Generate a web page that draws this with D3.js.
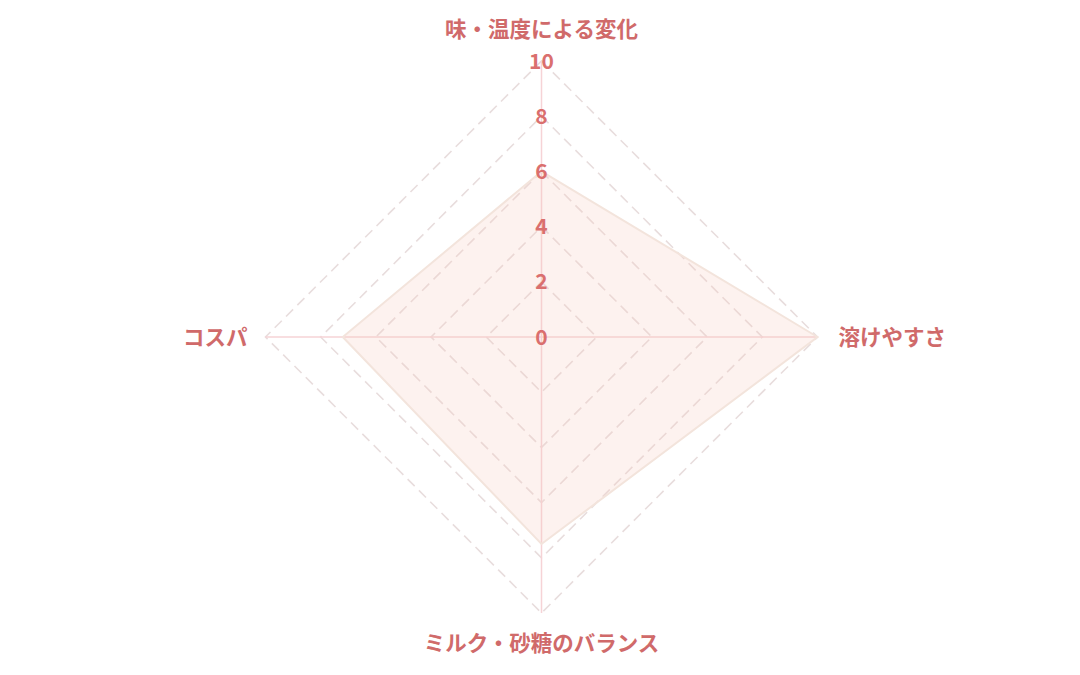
<!DOCTYPE html>
<html>
<head>
<meta charset="utf-8">
<script src="https://cdn.jsdelivr.net/npm/d3@7"></script>
<style>
  html, body { margin: 0; padding: 0; background: #fff; }
  svg { display: block; font-family: "Noto Sans CJK JP", "Noto Sans", sans-serif; }
</style>
</head>
<body>
<svg id="chart" width="1080" height="675"></svg>
<script>
const categories = ["味・温度による変化", "溶けやすさ", "ミルク・砂糖のバランス", "コスパ"];
const values = [6, 10, 7.5, 7.2];
const ticks = [0, 2, 4, 6, 8, 10];

const svg = d3.select("#chart");
const cx = 541.5, cy = 337;
const radius = 276;

const r = d3.scaleLinear().domain([0, 10]).range([0, radius]);
const angle = d3.scaleLinear().domain([0, categories.length]).range([0, 2 * Math.PI]);

const pt = (i, v) => {
   const a = angle(i) - Math.PI / 2;
   return [cx + r(v) * Math.cos(a), cy + r(v) * Math.sin(a)];
};

const g = svg.append("g");

// grid rings (dashed)
g.selectAll(".ring")
   .data(ticks.filter((t) => t > 0))
   .enter()
   .append("polygon")
   .attr("class", "ring")
   .attr("points", (t) => categories.map((c, i) => pt(i, t).join(",")).join(" "))
   .attr("fill", "none")
   .attr("stroke", "#e8dddd")
   .attr("stroke-width", 1.6)
   .attr("stroke-dasharray", "10,6");

// axis lines
g.selectAll(".spoke")
   .data(categories)
   .enter()
   .append("line")
   .attr("class", "spoke")
   .attr("x1", cx)
   .attr("y1", cy)
   .attr("x2", (d, i) => pt(i, 10)[0])
   .attr("y2", (d, i) => pt(i, 10)[1])
   .attr("stroke", "#f6d3d6")
   .attr("stroke-width", 1.5);

// data area
g.append("polygon")
   .attr("points", values.map((v, i) => pt(i, v).join(",")).join(" "))
   .attr("fill", "rgba(245, 200, 190, 0.24)")
   .attr("stroke", "#f3e4dc")
   .attr("stroke-width", 2);

// tick labels
g.selectAll(".tick")
   .data(ticks)
   .enter()
   .append("text")
   .attr("class", "tick")
   .attr("x", cx)
   .attr("y", (t) => cy - r(t))
   .attr("dy", "0.36em")
   .attr("text-anchor", "middle")
   .attr("font-size", 21)
   .attr("font-weight", 600)
   .attr("fill", "#da6f6e")
   .text((t) => t);

// category labels
const labelPos = [
   { dx: 0, dy: -32, anchor: "middle" },
   { dx: 21, dy: 0, anchor: "start" },
   { dx: 0, dy: 30, anchor: "middle" },
   { dx: -18, dy: 0, anchor: "end" }
];
g.selectAll(".cat")
   .data(categories)
   .enter()
   .append("text")
   .attr("class", "cat")
   .attr("x", (d, i) => pt(i, 10)[0] + labelPos[i].dx)
   .attr("y", (d, i) => pt(i, 10)[1] + labelPos[i].dy)
   .attr("dy", "0.36em")
   .attr("text-anchor", (d, i) => labelPos[i].anchor)
   .attr("font-size", 21.5)
   .attr("font-weight", 700)
   .attr("fill", "#d06a6a")
   .text((d) => d);
</script>
</body>
</html>
